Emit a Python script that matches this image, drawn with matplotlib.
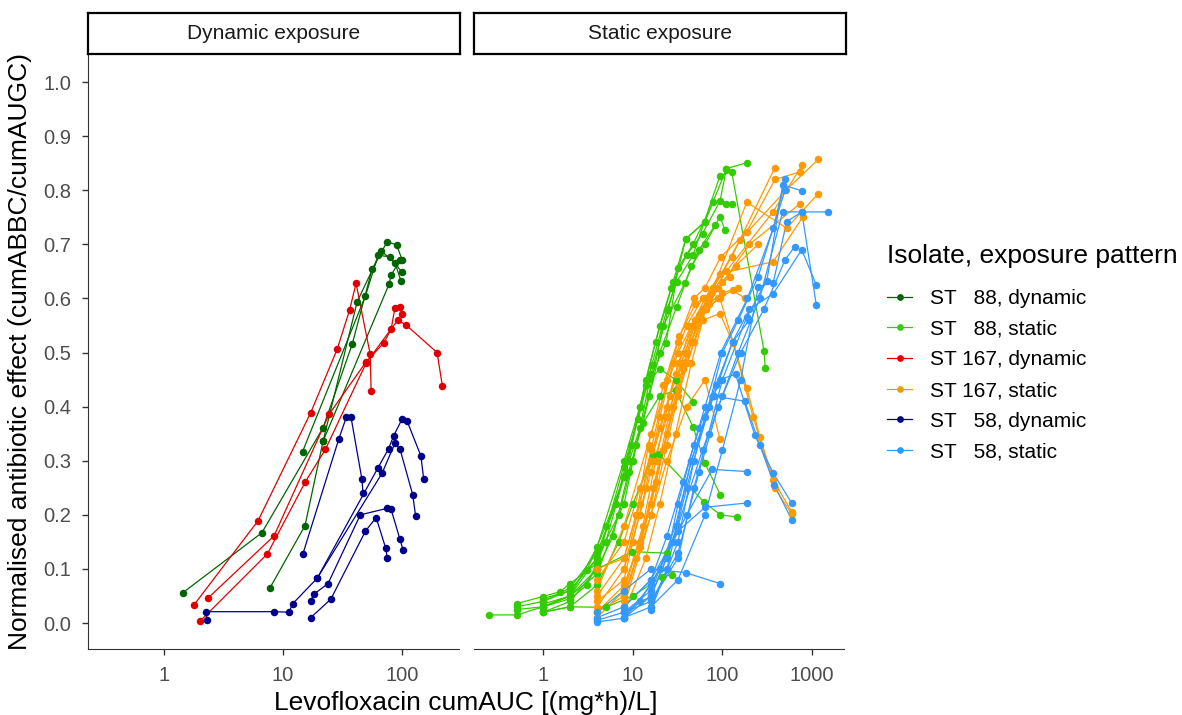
import matplotlib
matplotlib.use("Agg")
import matplotlib.pyplot as plt
from matplotlib.lines import Line2D
from matplotlib.ticker import FixedLocator, NullLocator

plt.rcParams['font.family'] = ['Liberation Sans', 'DejaVu Sans']

# ---- data: cumAUC (x) and normalised effect (y), one list per curve ----
# dynamic exposure
st88_dyn_x = [[1.44, 6.65, 21.7, 38.2, 56, 75, 90, 100],
              [7.77, 15.3, 21.7, 42, 67, 87.6, 97.7],
              [14.6, 49.3, 63, 79, 99.5],
              [21.7, 78, 81, 96]]
st88_dyn_y = [[0.056, 0.167, 0.361, 0.516, 0.654, 0.705, 0.699, 0.672],
              [0.065, 0.180, 0.336, 0.594, 0.688, 0.665, 0.633],
              [0.317, 0.605, 0.680, 0.677, 0.649],
              [0.336, 0.627, 0.643, 0.671]]

st167_dyn_x = [[1.78, 6.17, 17.1, 28.5, 36.3, 41.1, 54, 55],
               [2.34, 8.4, 24.4, 49.6, 70.3, 81, 87, 95.5, 100],
               [2.02, 7.4, 15.4, 22.7, 50, 92, 108, 197, 218]]
st167_dyn_y = [[0.033, 0.189, 0.389, 0.506, 0.579, 0.628, 0.497, 0.429],
               [0.046, 0.161, 0.386, 0.482, 0.518, 0.543, 0.582, 0.585, 0.571],
               [0.004, 0.128, 0.261, 0.321, 0.481, 0.560, 0.551, 0.500, 0.439]]

st58_dyn_x = [[2.3, 2.27, 8.4, 11.2, 12.1, 19.4, 62.8, 77, 85, 100, 110, 144, 152],
              [17.1, 25.2, 49.3, 60.6, 73, 75],
              [17.1, 18.1, 23.9, 44.6, 75, 81, 96, 102],
              [14.7, 29.5, 34, 37.3, 46, 47],
              [19.4, 68, 87, 96, 123, 130]]
st58_dyn_y = [[0.006, 0.021, 0.021, 0.020, 0.036, 0.083, 0.287, 0.322, 0.346, 0.377, 0.374, 0.309, 0.266],
              [0.010, 0.044, 0.170, 0.195, 0.138, 0.121],
              [0.041, 0.053, 0.073, 0.200, 0.212, 0.210, 0.155, 0.135],
              [0.128, 0.341, 0.380, 0.380, 0.266, 0.240],
              [0.083, 0.277, 0.332, 0.322, 0.237, 0.198]]

# static exposure
st88_sta_x = [[0.25, 0.51, 1.0, 2.0, 4.0, 8.0, 12, 18, 27, 39, 64, 111, 187],
              [0.51, 1.0, 1.55, 2.0, 4.0, 7.9, 11.6, 16.3, 24, 31, 47, 94, 127, 291, 300],
              [0.51, 1.0, 2.0, 3.1, 5.0, 8.0, 12.1, 15.6, 23.5, 32, 47, 79, 111, 127],
              [1.0, 2.0, 4.0, 6.0, 9.0, 13, 20, 31, 45, 64, 94, 107],
              [1.0, 2.0, 4.0, 7.0, 10, 15, 22, 38, 55, 83],
              [1.0, 2.0, 4.0, 8.0, 11, 16, 25, 39, 64],
              [1.0, 2.0, 4.0, 8.0, 12, 20, 30, 47, 64, 95],
              [1.0, 2.0, 4.0, 7.0, 10, 16.9, 19.6, 62, 95, 147],
              [1.0, 2.0, 4.0, 9.9, 24.3],
              [1.0, 2.0, 5.0, 10, 21.4, 27.6],
              [0.51, 1.0, 2.0, 3.1, 5.0, 9.0, 14, 20, 28, 40, 60, 94, 111],
              [1.0, 2.0, 4.0, 6.5, 9.5, 14, 20, 30, 47]]
st88_sta_y = [[0.015, 0.015, 0.030, 0.050, 0.14, 0.30, 0.40, 0.52, 0.62, 0.71, 0.742, 0.84, 0.851],
              [0.036, 0.049, 0.058, 0.073, 0.11, 0.289, 0.378, 0.477, 0.579, 0.631, 0.68, 0.827, 0.834, 0.503, 0.471],
              [0.030, 0.040, 0.060, 0.098, 0.18, 0.27, 0.40, 0.452, 0.517, 0.656, 0.70, 0.778, 0.775, 0.775],
              [0.020, 0.040, 0.10, 0.16, 0.28, 0.37, 0.50, 0.585, 0.66, 0.70, 0.751, 0.726],
              [0.035, 0.050, 0.090, 0.20, 0.30, 0.42, 0.55, 0.628, 0.69, 0.736],
              [0.045, 0.060, 0.12, 0.22, 0.33, 0.46, 0.58, 0.71, 0.742],
              [0.030, 0.050, 0.12, 0.27, 0.36, 0.42, 0.43, 0.363, 0.295, 0.237],
              [0.020, 0.030, 0.070, 0.15, 0.22, 0.31, 0.312, 0.224, 0.200, 0.196],
              [0.030, 0.050, 0.10, 0.132, 0.129],
              [0.020, 0.030, 0.029, 0.050, 0.086, 0.089],
              [0.025, 0.030, 0.045, 0.07, 0.15, 0.30, 0.45, 0.55, 0.63, 0.68, 0.72, 0.78, 0.84],
              [0.040, 0.065, 0.13, 0.22, 0.33, 0.44, 0.47, 0.45, 0.409]]

st167_sta_x = [[4, 8, 12, 16, 24, 32, 48, 64, 96, 187, 385, 731],
               [4, 8, 13, 18, 26, 38, 55, 79, 127, 385],
               [4, 8, 16, 24, 32, 50, 80, 157, 510, 1172],
               [4, 8, 12, 20, 30, 45, 70, 110, 366, 779],
               [8, 16, 24, 32, 48, 64, 94, 187, 262, 370, 591],
               [8, 16, 24, 40, 60, 94, 132, 220, 385, 591],
               [4, 8, 16, 24, 40, 64, 94],
               [8, 12, 16, 24, 36, 55, 79, 187, 520, 1172],
               [4, 8, 16, 32, 64, 94, 369, 790],
               [8, 14, 20, 30, 45, 65, 100, 200, 731],
               [4, 8, 10, 14, 20, 28, 40, 60],
               [8, 12, 18, 28, 40, 60, 90, 140, 250],
               [4, 8, 11, 15, 22, 33, 50, 75, 120],
               [4, 8, 12, 17, 25, 35, 48, 70, 100, 150],
               [8, 11, 16, 22, 32, 45, 65, 90, 130, 180]]
st167_sta_y = [[0.030, 0.10, 0.22, 0.32, 0.45, 0.52, 0.60, 0.62, 0.677, 0.723, 0.820, 0.834],
               [0.010, 0.060, 0.18, 0.30, 0.42, 0.50, 0.57, 0.62, 0.677, 0.842],
               [0.050, 0.12, 0.30, 0.40, 0.48, 0.56, 0.62, 0.708, 0.800, 0.857],
               [0.080, 0.15, 0.25, 0.36, 0.46, 0.55, 0.60, 0.65, 0.760, 0.847],
               [0.030, 0.20, 0.33, 0.42, 0.52, 0.58, 0.60, 0.434, 0.344, 0.264, 0.206],
               [0.060, 0.22, 0.35, 0.48, 0.56, 0.572, 0.517, 0.381, 0.249, 0.202],
               [0.020, 0.050, 0.20, 0.30, 0.40, 0.45, 0.340],
               [0.10, 0.20, 0.28, 0.38, 0.47, 0.56, 0.62, 0.778, 0.730, 0.794],
               [0.060, 0.18, 0.35, 0.50, 0.60, 0.646, 0.668, 0.751],
               [0.020, 0.12, 0.22, 0.35, 0.48, 0.58, 0.63, 0.70, 0.775],
               [0.040, 0.080, 0.15, 0.25, 0.38, 0.48, 0.55, 0.60],
               [0.040, 0.14, 0.26, 0.40, 0.50, 0.58, 0.62, 0.66, 0.70],
               [0.10, 0.12, 0.20, 0.33, 0.44, 0.53, 0.59, 0.61, 0.64],
               [0.020, 0.070, 0.15, 0.25, 0.38, 0.48, 0.55, 0.59, 0.61, 0.62],
               [0.050, 0.12, 0.22, 0.32, 0.43, 0.52, 0.58, 0.60, 0.615, 0.60]]

st58_sta_x = [[4, 8, 16, 24, 32, 48, 64, 96, 190, 370, 498],
              [8, 16, 32, 48, 70, 100, 187, 313, 470, 766],
              [8, 16, 32, 64, 100, 160, 251, 369, 520, 766, 1520],
              [16, 32, 48, 78, 178, 260, 380, 591],
              [16, 24, 40, 64, 94, 140, 230, 369, 591],
              [4, 8, 16, 39, 94],
              [8, 16, 40, 77, 190],
              [8, 16, 32, 64, 190],
              [4, 8, 16, 32, 60, 100, 160, 290, 498, 640],
              [8, 16, 28, 45, 80, 130, 200, 369, 766, 1114],
              [16, 32, 55, 90, 150, 260, 470, 766, 1114],
              [8, 12, 20, 30, 45, 70, 100, 150, 250, 498],
              [4, 8, 16, 24, 36, 55, 85, 130, 200]]
st58_sta_y = [[0.002, 0.009, 0.050, 0.12, 0.22, 0.33, 0.40, 0.50, 0.60, 0.730, 0.820],
              [0.020, 0.040, 0.12, 0.25, 0.35, 0.45, 0.566, 0.633, 0.810, 0.799],
              [0.010, 0.030, 0.080, 0.20, 0.32, 0.45, 0.622, 0.629, 0.742, 0.760, 0.760],
              [0.025, 0.15, 0.30, 0.42, 0.41, 0.33, 0.255, 0.191],
              [0.030, 0.10, 0.25, 0.38, 0.45, 0.46, 0.347, 0.277, 0.222],
              [0.020, 0.060, 0.10, 0.093, 0.073],
              [0.010, 0.070, 0.20, 0.284, 0.280],
              [0.030, 0.080, 0.17, 0.214, 0.222],
              [0.005, 0.020, 0.060, 0.18, 0.32, 0.42, 0.50, 0.58, 0.671, 0.696],
              [0.020, 0.050, 0.15, 0.30, 0.42, 0.52, 0.58, 0.609, 0.690, 0.625],
              [0.040, 0.13, 0.28, 0.40, 0.50, 0.60, 0.76, 0.760, 0.588],
              [0.010, 0.040, 0.10, 0.18, 0.30, 0.40, 0.50, 0.56, 0.64, 0.800],
              [0.010, 0.030, 0.080, 0.16, 0.26, 0.36, 0.44, 0.52, 0.56]]

labels = ['ST   88, dynamic', 'ST   88, static', 'ST 167, dynamic',
          'ST 167, static', 'ST   58, dynamic', 'ST   58, static']
colors = ['#006400', '#33CC00', '#E00000', '#FF9900', '#00008B', '#3399FF']
y_ticks = [0.0, 0.1, 0.2, 0.3, 0.4, 0.5, 0.6, 0.7, 0.8, 0.9, 1.0]

# ---- figure ----
fig = plt.figure(figsize=(11.82, 7.15), dpi=100)
W, H = 1182, 715
ax1 = fig.add_axes([88 / W, 1 - 649 / H, (459 - 88) / W, (649 - 54.5) / H])
ax2 = fig.add_axes([474 / W, 1 - 649 / H, (844 - 474) / W, (649 - 54.5) / H])

dyn = [(st88_dyn_x, st88_dyn_y), (st167_dyn_x, st167_dyn_y), (st58_dyn_x, st58_dyn_y)]
sta = [(st88_sta_x, st88_sta_y), (st167_sta_x, st167_sta_y), (st58_sta_x, st58_sta_y)]

lw, ms = 0.9, 5.4
for ax, groups, cols in [(ax1, dyn, colors[0::2]), (ax2, sta, colors[1::2])]:
    for (xs, ys), c in zip(groups, cols):
        for x, y in zip(xs, ys):
            ax.plot(x, y, '-', color=c, lw=lw, zorder=2)
    for (xs, ys), c in zip(groups, cols):
        for x, y in zip(xs, ys):
            ax.plot(x, y, 'o', color=c, ms=ms, mew=0, zorder=3)

ax1.set_xlim(0.23, 301)
ax2.set_xlim(0.17, 2268)
for ax, xt in [(ax1, [1, 10, 100]), (ax2, [1, 10, 100, 1000])]:
    ax.set_xscale('log')
    ax.xaxis.set_major_locator(FixedLocator(xt))
    ax.xaxis.set_minor_locator(NullLocator())
    ax.set_xticklabels([str(v) for v in xt])
    ax.set_ylim(-0.048, 1.051)
    ax.spines['top'].set_visible(False)
    ax.spines['right'].set_visible(False)
    ax.spines['bottom'].set_color('#333333')
    ax.spines['left'].set_color('#333333')
    ax.tick_params(axis='both', colors='#333333', labelcolor='#4D4D4D',
                   labelsize=14.5, length=4, width=1, pad=8)

ax1.set_yticks(y_ticks)
ax1.set_yticklabels(['%.1f' % v for v in y_ticks])
ax2.spines['left'].set_visible(False)
ax2.set_yticks([])
ax1.set_ylabel('Normalised antibiotic effect (cumABBC/cumAUGC)', fontsize=19, labelpad=8)
fig.text(466 / W, 1 - 703 / H, 'Levofloxacin cumAUC [(mg*h)/L]', fontsize=19,
         ha='center', va='center')

# facet strips
for left, right, txt in [(88, 460, 'Dynamic exposure'), (474, 846, 'Static exposure')]:
    sax = fig.add_axes([left / W, 1 - 54 / H, (right - left) / W, (54 - 12.5) / H])
    sax.set_xticks([])
    sax.set_yticks([])
    for s in sax.spines.values():
        s.set_linewidth(1.6)
        s.set_color('black')
    sax.text(0.5, 0.5, txt, fontsize=15, color='#1A1A1A', ha='center', va='center',
             transform=sax.transAxes)

# legend
fig.text(887 / W, 1 - 256 / H, 'Isolate, exposure pattern', fontsize=19,
         ha='left', va='center')
handles = [Line2D([0], [0], color=c, lw=lw, marker='o', ms=ms * 0.9, mew=0) for c in colors]
fig.legend(handles, labels, loc='upper left',
           bbox_to_anchor=(887 / W, 1 - 289 / H), frameon=False, fontsize=15,
           handlelength=1.2, handletextpad=0.85, labelspacing=0.56,
           borderaxespad=0, borderpad=0)

fig.savefig('out.png', dpi=100)
